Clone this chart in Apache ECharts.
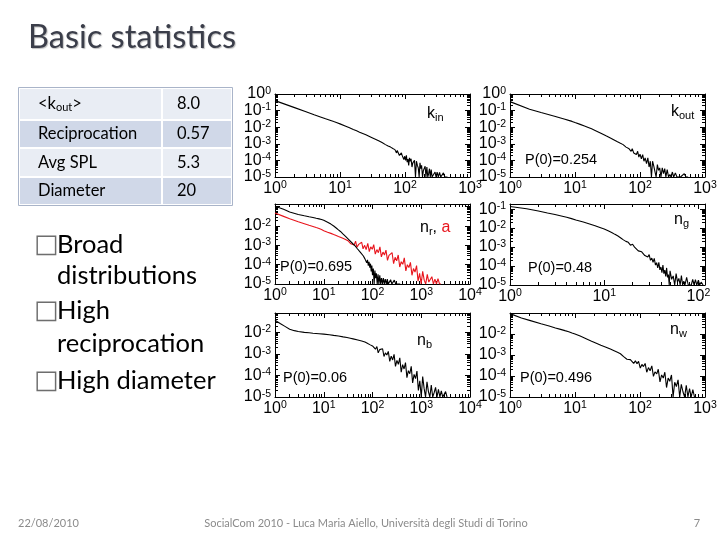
<!DOCTYPE html>
<html><head><meta charset="utf-8">
<script src="https://cdn.jsdelivr.net/npm/echarts@6/dist/echarts.min.js"></script>
<style>html,body{margin:0;padding:0;background:#fff}#c{width:720px;height:540px}</style>
</head><body><div id="c"></div>
<script>
// ---------- data (x values, log10 of probability) ----------
const kinX = [1,2,3,4,5,6,7,8,9,10, 12,14,16,18,20, 25,30,35,40,45,50,55,60,65,70,
  72,74,76,78,80,82,84,86,88,90, 93,96,99,102,105,108,111,114,117,120,
  124,128,132,136,140,145,150,155,160,165, 170,175,180,186,192,198,204,210,217,224,
  231,238,245,253,261,270,280,290,300,312, 325,340,355,370,390,410,430,450];
const kinY = [-0.40,-0.82,-1.07,-1.25,-1.38,-1.49,-1.58,-1.66,-1.73,-1.80, -1.93,-2.04,-2.14,-2.22,-2.30,
  -2.46,-2.60,-2.72,-2.83,-2.94,-3.05,-3.13,-3.20,-3.28,-3.35,
  -3.30,-3.55,-3.40,-3.48,-3.45,-3.70,-3.58,-3.80,-3.55,-3.68, -3.60,-3.95,-3.75,-4.00,-3.70,-4.10,-3.92,-4.30,-3.85,-4.05,
  -3.90,-4.40,-4.15,-4.20,-4.00,-5.00,-4.05,-4.30,-4.45,-5.00, -4.15,-4.50,-4.30,-5.00,-4.60,-4.70,-4.35,-5.00,-4.40,-5.00,
  -4.80,-4.50,-5.00,-4.55,-5.00,-4.90,-5.00,-4.70,-5.00,-4.70, -5.00,-4.72,-5.00,-5.00,-4.75,-5.00,-5.00,-5.00];

const koutX = [1,2,3,4,5,6,7,8,9,10, 12,14,16,18,20,25,30,35,40,45, 50,55,58,61,64,67,70,73,76,80,
  84,88,92,96,100,105,110,115,120,126, 132,138,144,150,156,163,170,177,185,193,
  201,210,220,230,240,250,262,275,288,300, 315,330,350,370,395,420,450,480,510,550];
const koutY = [-0.46,-0.92,-1.12,-1.25,-1.35,-1.44,-1.52,-1.59,-1.65,-1.72, -1.83,-1.93,-2.02,-2.10,-2.18,-2.36,-2.52,-2.65,-2.77,-2.88,
  -2.97,-3.05,-3.05,-3.20,-3.12,-3.28,-3.22,-3.45,-3.30,-3.55, -3.48,-3.65,-3.45,-3.80,-3.62,-3.90,-3.65,-4.05,-3.85,-4.20,
  -3.85,-4.40,-4.05,-5.00,-4.05,-4.35,-4.25,-5.00,-4.25,-4.60, -4.45,-5.00,-4.45,-4.80,-4.50,-5.00,-4.55,-5.00,-4.85,-5.00,
  -4.70,-5.00,-4.75,-5.00,-4.90,-5.00,-5.00,-4.80,-5.00,-5.00];

const nrX = [1,1.5,2,3,4,5,6,7,8,9, 10,12,14,16,18,20,22,25,28,30, 33,36,40,44,48,52,56,60,65,70,
  73,76,79,82,85,88,91,94,97,100, 104,108,112,116,120,125,130,135,141,147,
  153,160,167,175,183,192,201,211,222,235, 250,265,280,300,320,345,370];
const nrY = [-0.98,-1.13,-1.27,-1.40,-1.47,-1.52,-1.56,-1.60,-1.63,-1.66, -1.70,-1.80,-1.90,-2.00,-2.10,-2.20,-2.28,-2.42,-2.54,-2.62,
  -2.72,-2.82,-2.93,-3.03,-3.15,-3.25,-3.35,-3.45,-3.55,-3.70, -3.65,-3.90,-3.75,-4.05,-3.85,-4.15,-3.95,-4.35,-4.05,-4.55,
  -4.20,-5.00,-4.30,-4.70,-4.45,-5.00,-4.50,-5.00,-4.55,-5.00, -4.70,-5.00,-4.70,-5.00,-4.75,-5.00,-4.75,-5.00,-5.00,-4.78,
  -5.00,-5.00,-4.80,-5.00,-5.00,-5.00,-5.00];

const aX = [1,1.5,2,3,4,5,6,7,8,9, 10,12,14,16,18,20,24,28,32,
  34,36,39,42,45,48,52,56,60,64, 69,74,80,86,92,99,106,114,123,132,
  142,152,164,176,189,203,218,235,252,271, 291,313,337,362,389,418,449,483,519,558,
  600,645,693,745,801,861,926,995,1070,1150, 1236,1329,1428,1535,1650,1774,1907,2050,2204,2369, 2547];
const aY = [-1.33,-1.50,-1.62,-1.78,-1.88,-1.96,-2.02,-2.08,-2.13,-2.18, -2.24,-2.32,-2.38,-2.44,-2.49,-2.54,-2.62,-2.70,-2.78,
  -2.75,-2.92,-2.82,-2.98,-2.78,-3.10,-2.95,-3.05,-2.84,-3.18, -3.00,-3.22,-2.90,-3.32,-3.08,-3.20,-2.96,-3.45,-3.22,-3.38,
  -3.08,-3.60,-3.35,-3.50,-3.25,-3.78,-3.52,-3.62,-3.38,-3.95, -3.62,-3.80,-3.50,-4.12,-3.85,-3.98,-3.65,-4.32,-4.00,-4.15,
  -3.88,-4.55,-4.20,-4.38,-4.05,-4.85,-4.45,-5.00,-4.35,-4.80, -5.00,-4.50,-4.90,-5.00,-4.62,-5.00,-4.75,-5.00,-4.72,-5.00, -5.00];

const ngX = [1,1.5,2,2.5,3,3.5,4,4.5,5,6, 7,8,9,10,11,12,13,14,15,16, 17,18,19,20,21,22,23,24,25,26,
  27,28,29,30,31,32,33,34,35,36, 37,38,39,40,41,42,43,44,45,46, 47,48,49,50,52,54,56,58,60,62,
  64,66,68,70,72,75,78,81,84,87, 90,93,96,100,103,107,112];
const ngY = [-0.86,-0.98,-1.10,-1.20,-1.28,-1.36,-1.43,-1.50,-1.57,-1.68, -1.78,-1.88,-1.97,-2.05,-2.14,-2.23,-2.33,-2.42,-2.52,-2.62,
  -2.70,-2.75,-2.90,-2.85,-3.00,-2.95,-3.20,-3.12,-3.25,-3.15, -3.45,-3.38,-3.52,-3.40,-3.70,-3.58,-3.80,-3.60,-3.95,-3.82,
  -4.10,-3.80,-4.20,-4.05,-4.35,-3.95,-4.40,-4.22,-4.55,-4.10, -4.60,-4.45,-5.00,-4.25,-4.70,-4.52,-5.00,-4.40,-4.85,-4.65,
  -5.00,-4.50,-5.00,-4.80,-5.00,-4.60,-5.00,-4.90,-5.00,-4.70, -5.00,-4.72,-5.00,-4.75,-5.00,-4.85,-5.00];

const nbX = [1,1.3,1.6,2,2.5,3,4,5,6,8, 10,13,16,20,25,30,35,40,50,60, 70,80,90,100,107,115,123,131,140,150,
  161,172,184,197,211,226,242,259,277,296, 317,339,363,388,415,444,475,508,544,582,
  623,666,713,763,816,873,934,1000,1070,1145, 1225,1311,1403,1501,1606,1718,1839,1967,2105,2252,
  2410,2579,2759,2952,3159,3380];
const nbY = [-1.44,-1.60,-1.72,-1.85,-1.92,-1.96,-2.00,-2.02,-2.04,-2.06, -2.08,-2.11,-2.14,-2.17,-2.21,-2.24,-2.27,-2.30,-2.35,-2.40,
  -2.45,-2.52,-2.58,-2.63,-2.60,-2.78,-2.66,-2.95,-2.80,-2.88, -2.76,-3.12,-2.95,-3.05,-2.88,-3.35,-3.10,-3.28,-3.02,-3.58,
  -3.30,-3.48,-3.18,-3.85,-3.50,-3.70,-3.40,-4.10,-3.78,-3.92, -3.58,-4.35,-3.95,-4.15,-3.80,-4.70,-4.25,-5.00,-4.05,-4.60,
  -5.00,-4.30,-4.75,-5.00,-4.45,-5.00,-4.80,-4.55,-5.00,-4.65, -5.00,-4.72,-5.00,-5.00,-4.75,-5.00];

const nwX = [1,1.5,2,3,4,5,6,7,8,9, 10,12,14,16,18,20,25,30,35,40, 45,50,53,56,60,63,67,71,75,80,
  85,90,95,101,107,113,120,127,135,143, 152,161,170,181,191,203,215,228,241,256,
  271,287,305,323,342,363,385,408,432,458, 486,515,546,578,613,650,689];
const nwY = [-1.03,-1.24,-1.35,-1.51,-1.62,-1.71,-1.78,-1.84,-1.89,-1.95, -2.00,-2.10,-2.19,-2.27,-2.34,-2.40,-2.54,-2.63,-2.72,-2.80,
  -2.87,-2.94,-2.95,-3.08,-3.02,-3.20,-3.12,-3.22,-3.15,-3.40, -3.28,-3.42,-3.30,-3.62,-3.45,-3.55,-3.40,-3.82,-3.60,-3.75,
  -3.52,-4.02,-3.80,-3.90,-3.68,-4.28,-3.95,-4.10,-3.82,-4.55, -4.10,-4.25,-3.95,-5.00,-4.30,-4.50,-4.18,-5.00,-4.40,-4.75,
  -5.00,-4.45,-5.00,-4.60,-5.00,-4.65,-5.00];

// tick labels (exponents of 10)
const xLab3 = [0,1,2,3];
const xLab4 = [0,1,2,3,4];
const xLab2 = [0,1,2];
const yLab0 = [-5,-4,-3,-2,-1,0];
const yLab1 = [-5,-4,-3,-2,-1];
const yLab2 = [-5,-4,-3,-2];

// table & text content
const tableRows = [["<k_out>","8.0"],["Reciprocation","0.57"],["Avg SPL","5.3"],["Diameter","20"]];
const bullets = [["Broad","distributions"],["High","reciprocation"],["High diameter"]];
const pLabels = ["", "P(0)=0.254", "P(0)=0.695", "P(0)=0.48", "P(0)=0.06", "P(0)=0.496"];

// ---------- layout ----------
const panels = [
  {box:[275,94,195,83], x:[0,3], y:[-5,0], xl:xLab3, yl:yLab0, series:[[kinX,kinY,'#000']]},
  {box:[510,94,195,83], x:[0,3], y:[-5,0], xl:xLab3, yl:yLab0, series:[[koutX,koutY,'#000']]},
  {box:[275,204,195,80], x:[0,4], y:[-5,-0.86], xl:xLab4, yl:yLab2, series:[[aX,aY,'#e8141c'],[nrX,nrY,'#000']]},
  {box:[510,204,195,81], x:[0,2.07], y:[-5,-0.73], xl:xLab2, yl:yLab1, series:[[ngX,ngY,'#000']]},
  {box:[275,313,195,84], x:[0,4], y:[-5,-1.1], xl:xLab4, yl:yLab2, series:[[nbX,nbY,'#000']]},
  {box:[510,313,195,84], x:[0,3], y:[-5,-1.0], xl:xLab3, yl:yLab2, series:[[nwX,nwY,'#000']]}
];

const FONT = 'Liberation Sans';
const rich = {
  b:{fontSize:16, fontFamily:FONT, color:'#000', lineHeight:17},
  s:{fontSize:10.5, fontFamily:FONT, color:'#000', lineHeight:7, verticalAlign:'top'}
};
const fmt = v => '{b|10}{s|' + Math.round(v) + '}';
function majors(r){ const a=[]; for(let e=Math.ceil(r[0]-1e-9); e<=r[1]+1e-9; e++) a.push(e); return a; }
function minors(r){ const a=[]; for(let e=Math.floor(r[0]); e<=Math.ceil(r[1]); e++){ for(let m=2;m<=9;m++){ const v=e+Math.log10(m); if(v>r[0]&&v<r[1]) a.push(v);} } return a; }

const grid=[], xAxis=[], yAxis=[], series=[];
panels.forEach((p,i)=>{
  grid.push({left:p.box[0], top:p.box[1], width:p.box[2], height:p.box[3], containLabel:false, outerBoundsMode:'none'});
  const mk = (dim, pos, major, label) => {
    const r = dim==='x'? p.x : p.y;
    const lab = dim==='x'? p.xl : p.yl;
    return {
      gridIndex:i, type:'value', min:r[0], max:r[1], position:pos,
      axisLine:{show:major, onZero:false, lineStyle:{color:'#000', width:1}},
      axisTick:{show:true, inside:true, length: major?5:3, customValues: major? majors(r) : minors(r), lineStyle:{color:'#000', width:1}},
      axisLabel:label ? {show:true, customValues:lab, formatter:fmt, rich:rich, margin: dim==='x'?3:4, showMinLabel:true, showMaxLabel:true} : {show:false},
      splitLine:{show:false}, minorTick:{show:false}, axisPointer:{show:false}
    };
  };
  xAxis.push(mk('x','bottom',true,true), mk('x','bottom',false,false), mk('x','top',true,false), mk('x','top',false,false));
  yAxis.push(mk('y','left',true,true), mk('y','left',false,false), mk('y','right',true,false), mk('y','right',false,false));
  p.series.forEach(s=>{
    const data = s[0].map((xv,k)=>[Math.log10(xv), s[1][k]]).filter(d=>d[1]!==undefined);
    series.push({type:'line', xAxisIndex:4*i, yAxisIndex:4*i, data:data, symbol:'none', showSymbol:false,
      lineStyle:{color:s[2], width:1.1}, itemStyle:{color:s[2]}, clip:true, silent:true, animation:false});
  });
});

// ---------- slide graphics ----------
const g = [];
const LATO = 'Lato';
g.push({type:'text', x:28, y:38, style:{text:'Basic statistics', fontFamily:LATO, fontSize:32.5, fill:'#3b3e4a',
  verticalAlign:'middle', textShadowColor:'rgba(0,0,0,0.25)', textShadowOffsetX:1, textShadowOffsetY:1, textShadowBlur:1}});

const rowY = [88,120,148,177,205];
const rowFill = ['#E9EDF4','#D0D8E8','#E9EDF4','#D0D8E8'];
tableRows.forEach((r,k)=>{
  g.push({type:'rect', shape:{x:19, y:rowY[k], width:213, height:rowY[k+1]-rowY[k]}, style:{fill:rowFill[k], stroke:'#ffffff', lineWidth:2}});
});
g.push({type:'line', shape:{x1:162,y1:88,x2:162,y2:205}, style:{stroke:'#ffffff', lineWidth:2}});
g.push({type:'rect', shape:{x:18.5, y:87.5, width:214, height:118}, style:{fill:'none', stroke:'#a9b4c9', lineWidth:1}});
tableRows.forEach((r,k)=>{
  const cy = (rowY[k]+rowY[k+1])/2;
  const t = r[0].indexOf('_')>=0 ? '{a|<k}{s|out}{a|>}' : '{a|'+r[0]+'}';
  g.push({type:'text', x:38, y:cy, style:{text:t, verticalAlign:'middle', rich:{
    a:{fontFamily:LATO, fontSize:16.5, fill:'#000', lineHeight:18},
    s:{fontFamily:LATO, fontSize:11, fill:'#000', lineHeight:8, verticalAlign:'bottom'}}}});
  g.push({type:'text', x:177, y:cy, style:{text:r[1], fontFamily:LATO, fontSize:16.5, fill:'#000', verticalAlign:'middle'}});
});

const bulletY = [[245,276],[311,344],[381]];
bullets.forEach((b,k)=>{
  g.push({type:'text', x:34, y:bulletY[k][0], style:{text:'\u25A1', fontFamily:'DejaVu Sans', fontSize:26, fill:'#6e6e6e', verticalAlign:'middle'}});
  b.forEach((line,j)=>{
    g.push({type:'text', x:57, y:bulletY[k][j], style:{text:line, fontFamily:LATO, fontSize:25.5, fill:'#000', verticalAlign:'middle'}});
  });
});

// panel annotations
const annRich = {
  k:{fontFamily:FONT, fontSize:16, fill:'#000', lineHeight:18},
  sb:{fontFamily:FONT, fontSize:11, fill:'#000', lineHeight:8, verticalAlign:'bottom'},
  r:{fontFamily:FONT, fontSize:16, fill:'#e8141c', lineHeight:18}
};
const ann = [
  [427,114,'{k|k}{sb|in}'], [671,112,'{k|k}{sb|out}'], [420,228,'{k|n}{sb|r}{k|, }{r|a}'],
  [674,220,'{k|n}{sb|g}'], [417,341,'{k|n}{sb|b}'], [670,330,'{k|n}{sb|w}']
];
ann.forEach(a=>g.push({type:'text', x:a[0], y:a[1], style:{text:a[2], rich:annRich, verticalAlign:'middle'}}));
const pPos = [null,[525,160],[280,267],[528,268],[283,378],[520,378]];
pLabels.forEach((t,k)=>{ if(t) g.push({type:'text', x:pPos[k][0], y:pPos[k][1], style:{text:t, fontFamily:FONT, fontSize:14.5, fill:'#000', verticalAlign:'middle'}}); });

// footer
g.push({type:'text', x:18, y:523, style:{text:'22/08/2010', fontFamily:LATO, fontSize:11, fill:'#8b8b8b', verticalAlign:'middle'}});
g.push({type:'text', x:366, y:523, style:{text:'SocialCom 2010 - Luca Maria Aiello, Università degli Studi di Torino', fontFamily:LATO, fontSize:11, fill:'#8b8b8b', align:'center', verticalAlign:'middle'}});
g.push({type:'text', x:697, y:523, style:{text:'7', fontFamily:LATO, fontSize:11, fill:'#8b8b8b', align:'center', verticalAlign:'middle'}});

const chart = echarts.init(document.getElementById('c'), null, {renderer:'canvas'});
chart.setOption({backgroundColor:'#fff', animation:false, grid, xAxis, yAxis, series, graphic:{elements:g}});
</script></body></html>
